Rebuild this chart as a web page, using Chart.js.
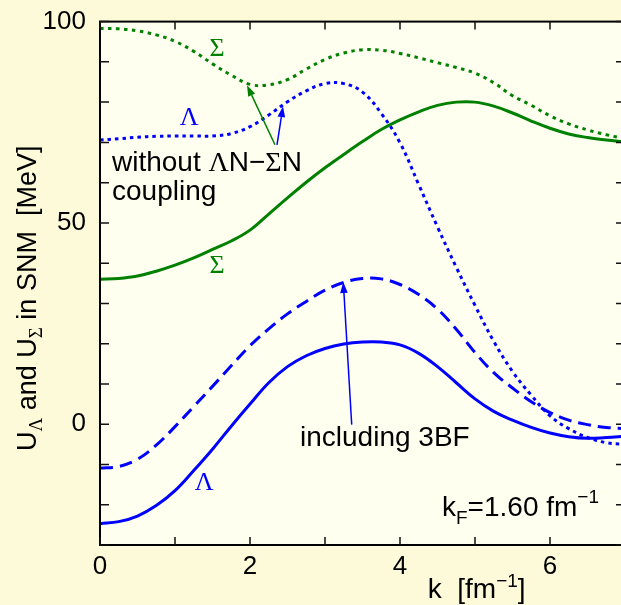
<!DOCTYPE html>
<html><head><meta charset="utf-8">
<script src="https://cdn.jsdelivr.net/npm/chart.js@4.4.1/dist/chart.umd.min.js"></script>
<style>html,body{margin:0;padding:0;overflow:hidden;background:#fcfad9;width:621px;height:605px}canvas{display:block}</style>
</head><body>
<canvas id="c" width="640" height="605"></canvas>
<script>
// ---- data (k in fm^-1, U in MeV) ----
const k = [0, 0.25, 0.5, 0.75, 1, 1.25, 1.5, 1.75, 2, 2.25, 2.5, 2.75, 3, 3.25, 3.5, 3.75,
           4, 4.25, 4.5, 4.75, 5, 5.25, 5.5, 5.75, 6, 6.25, 6.5, 6.75, 7];
const uSigmaNoCoupling  = [98.3, 98.2, 97.7, 96.7, 95.1, 92.6, 89.5, 86.7, 84.4, 84.3, 85.6, 88.2, 90.6, 92.2, 93.0, 92.9,
                           92.1, 91.0, 89.8, 88.6, 87.2, 84.8, 81.6, 79.2, 76.6, 74.6, 73.1, 71.9, 70.9];
const uLambdaNoCoupling = [70.6, 70.9, 71.3, 71.5, 71.6, 71.6, 71.6, 72.2, 73.9, 76.8, 80.1, 82.8, 84.6, 84.6, 82.5, 77.2,
                           69.9, 59.5, 49.0, 39.0, 29.5, 20.6, 13.1, 7.2, 2.1, -1.1, -3.3, -4.6, -5.0];
const uSigma            = [36.0, 36.2, 36.8, 38.0, 39.5, 41.3, 43.4, 45.5, 48.2, 52.2, 56.2, 60.1, 63.7, 67.0, 70.2, 73.2,
                           75.6, 77.6, 79.2, 80.0, 80.0, 79.0, 77.3, 75.3, 73.5, 72.1, 71.2, 70.6, 70.1];
const uLambda3BF        = [-10.9, -10.5, -8.7, -5.2, -0.6, 4.4, 9.4, 14.5, 19.5, 23.7, 27.4, 30.5, 33.3, 35.2, 36.2, 36.1,
                           34.7, 32.2, 28.6, 23.6, 17.8, 12.8, 9.0, 5.6, 2.9, 1.0, -0.1, -0.8, -1.1];
const uLambda           = [-24.7, -24.2, -22.8, -20.2, -16.5, -11.5, -6.2, -0.5, 5.0, 10.3, 14.3, 17.0, 18.8, 19.9, 20.4, 20.4,
                           19.7, 17.6, 14.3, 10.3, 6.3, 3.2, 1.0, -0.8, -2.2, -3.1, -3.5, -3.3, -3.0];
const xTickValues = [0, 1, 2, 3, 4, 5, 6, 7];
const xTickLabels = ['0', '', '2', '', '4', '', '6', ''];
const yTickValues = [-30, -20, -10, 0, 10, 20, 30, 40, 50, 60, 70, 80, 90, 100];
const yTickLabels = ['', '', '', '0', '', '', '', '', '50', '', '', '', '', '100'];

const GREEN = '#008000', BLUE = '#0000ff';
const SANS = '"Liberation Sans", Arial, sans-serif';
const SERIF = '"Liberation Serif", "DejaVu Serif", serif';
const pts = (ys) => k.map((x, i) => ({x, y: ys[i]}));

function drawRuns(ctx, runs, x, y) {
  for (const r of runs) {
    ctx.font = r.f; ctx.fillStyle = r.c || '#000';
    ctx.fillText(r.t, x, y + (r.dy || 0));
    x += ctx.measureText(r.t).width;
  }
  return x;
}
function runsWidth(ctx, runs) {
  let w = 0;
  for (const r of runs) { ctx.font = r.f; w += ctx.measureText(r.t).width; }
  return w;
}
function arrow(ctx, x1, y1, x2, y2, color) {
  ctx.save();
  ctx.strokeStyle = color; ctx.fillStyle = color; ctx.lineWidth = 1.5;
  const a = Math.atan2(y2 - y1, x2 - x1), L = 11, W = 3.8;
  const bx = x2 - L * Math.cos(a), by = y2 - L * Math.sin(a);
  ctx.beginPath(); ctx.moveTo(x1, y1); ctx.lineTo(bx, by); ctx.stroke();
  ctx.beginPath();
  ctx.moveTo(x2, y2);
  ctx.lineTo(bx + W * Math.sin(a), by - W * Math.cos(a));
  ctx.lineTo(bx - W * Math.sin(a), by + W * Math.cos(a));
  ctx.closePath(); ctx.fill();
  ctx.restore();
}

const deco = {
  id: 'deco',
  beforeDraw(chart) {
    const {ctx, chartArea: a} = chart;
    ctx.save();
    ctx.fillStyle = '#fcfad9'; ctx.fillRect(0, 0, chart.width, chart.height);
    ctx.fillStyle = '#fffff0'; ctx.fillRect(a.left, a.top, a.right - a.left, a.bottom - a.top);
    ctx.restore();
  },
  afterDraw(chart) {
    const {ctx, chartArea: a, scales: {x: xs, y: ys}} = chart;
    const X = v => xs.getPixelForValue(v), Y = v => ys.getPixelForValue(v);
    ctx.save();
    // frame
    ctx.strokeStyle = '#000'; ctx.lineWidth = 2;
    ctx.strokeRect(a.left, a.top, a.right - a.left, a.bottom - a.top);
    // inward ticks
    ctx.lineWidth = 1.5; ctx.strokeStyle = '#111';
    ctx.beginPath();
    for (const v of xTickValues) {
      const px = X(v);
      ctx.moveTo(px, a.bottom); ctx.lineTo(px, a.bottom - 8);
      ctx.moveTo(px, a.top); ctx.lineTo(px, a.top + 8);
    }
    for (const v of yTickValues) {
      const py = Y(v);
      ctx.moveTo(a.left, py); ctx.lineTo(a.left + 9, py);
      ctx.moveTo(a.right, py); ctx.lineTo(a.right - 9, py);
    }
    ctx.stroke();

    // Greek curve labels
    ctx.textAlign = 'center'; ctx.textBaseline = 'middle';
    ctx.font = '26px ' + SERIF;
    ctx.fillStyle = GREEN; ctx.fillText('Σ', X(1.56), Y(93.1));
    ctx.fillStyle = BLUE;  ctx.fillText('Λ', X(1.19), Y(76.0));
    ctx.fillStyle = GREEN; ctx.fillText('Σ', X(1.56), Y(39.3));
    ctx.fillStyle = BLUE;  ctx.fillText('Λ', X(1.39), Y(-14.6));
    ctx.textAlign = 'left'; ctx.textBaseline = 'alphabetic';

    const F = '28px ' + SANS, FG = '28px ' + SERIF, FS = '19px ' + SANS;
    drawRuns(ctx, [{t: 'without ', f: F}, {t: 'Λ', f: FG}, {t: 'N−', f: F}, {t: 'Σ', f: FG}, {t: 'N', f: F}], X(0.16), Y(63.0));
    drawRuns(ctx, [{t: 'coupling', f: F}], X(0.16), Y(55.8));
    drawRuns(ctx, [{t: 'including 3BF', f: F}], X(2.667), Y(-5.4));
    drawRuns(ctx, [{t: 'k', f: F}, {t: 'F', f: FS, dy: 8}, {t: '=1.60 fm', f: F}, {t: '−1', f: FS, dy: -13}], X(4.56), Y(-22.7));

    // arrows
    arrow(ctx, X(2.333), Y(69.4), X(1.96), Y(84.2), GREEN);
    arrow(ctx, X(2.36), Y(69.4), X(2.44), Y(79.0), BLUE);
    arrow(ctx, X(3.356), Y(-0.1), X(3.244), Y(35.3), BLUE);

    // x axis title
    drawRuns(ctx, [{t: 'k  [fm', f: F}, {t: '−1', f: FS, dy: -11}, {t: ']', f: F}], X(4.37), a.bottom + 53);

    // y axis title (rotated)
    const FY = '27px ' + SANS, FYS = '19px ' + SERIF;
    const yruns = [{t: 'U', f: FY}, {t: 'Λ', f: FYS, dy: 6}, {t: ' and U', f: FY}, {t: 'Σ', f: FYS, dy: 6}, {t: ' in SNM  [MeV]', f: FY}];
    const w = runsWidth(ctx, yruns);
    ctx.translate(36, (a.top + a.bottom) / 2 + 15);
    ctx.rotate(-Math.PI / 2);
    drawRuns(ctx, yruns, -w / 2, 0);
    ctx.restore();
  }
};

const line = (ys, color, dash) => ({
  data: pts(ys), borderColor: color, borderWidth: 3, borderDash: dash,
  borderCapStyle: 'butt', pointRadius: 0, fill: false, tension: 0.4
});

new Chart(document.getElementById('c'), {
  type: 'line',
  data: {
    datasets: [
      line(uSigmaNoCoupling, GREEN, [3.5, 4.5]),
      line(uLambdaNoCoupling, BLUE, [3.5, 4]),
      line(uSigma, GREEN, []),
      line(uLambda3BF, BLUE, [13, 7]),
      line(uLambda, BLUE, [])
    ]
  },
  options: {
    responsive: false, animation: false,
    layout: {padding: {left: 0, top: 18, right: 15, bottom: 0}},
    plugins: {legend: {display: false}, tooltip: {enabled: false}},
    scales: {
      x: {
        type: 'linear', min: 0, max: 7,
        afterFit: s => { s.height = 60; },
        afterBuildTicks: s => { s.ticks = xTickValues.map(v => ({value: v})); },
        grid: {display: false}, border: {display: false},
        ticks: {
          maxRotation: 0, autoSkip: false, padding: -2, color: '#000',
          font: {family: SANS, size: 26},
          callback: v => xTickLabels[xTickValues.indexOf(v)] ?? ''
        }
      },
      y: {
        type: 'linear', min: -30, max: 100,
        afterFit: s => { s.width = 100; },
        afterBuildTicks: s => { s.ticks = yTickValues.map(v => ({value: v})); },
        grid: {display: false}, border: {display: false},
        ticks: {
          autoSkip: false, padding: 6, color: '#000',
          font: {family: SANS, size: 26},
          callback: v => yTickLabels[yTickValues.indexOf(v)] ?? ''
        }
      }
    }
  },
  plugins: [deco]
});
</script>
</body></html>
